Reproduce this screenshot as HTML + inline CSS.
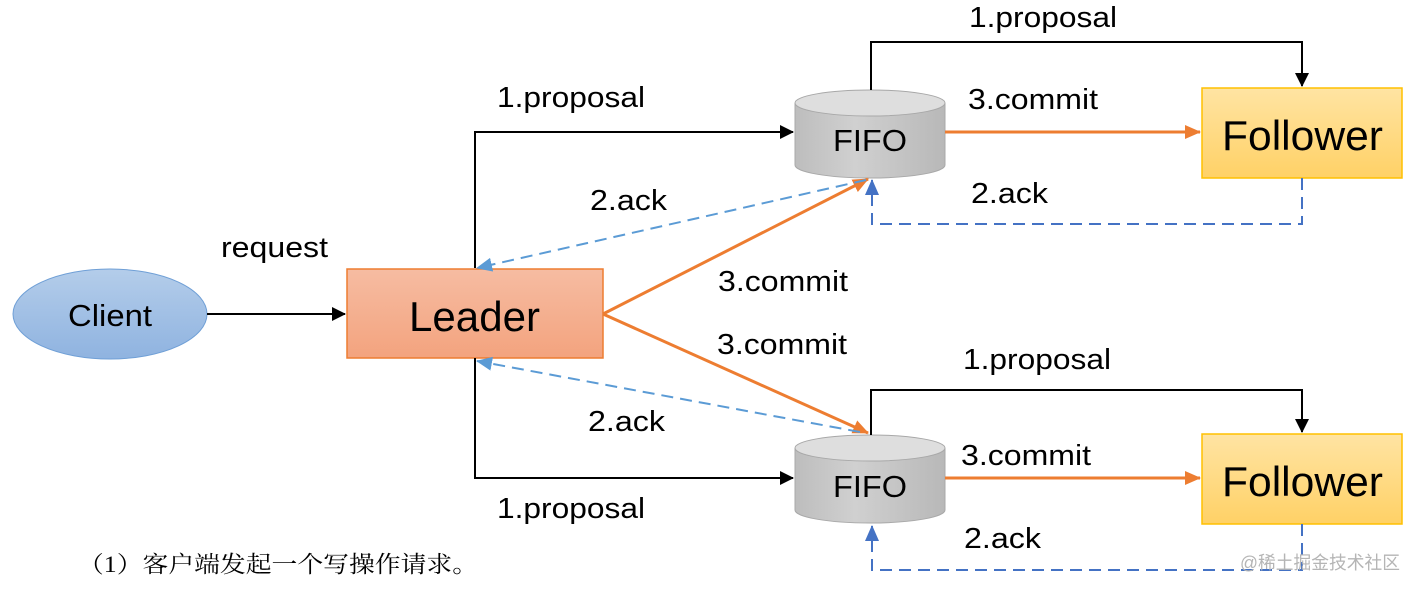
<!DOCTYPE html>
<html><head><meta charset="utf-8"><style>
html,body{margin:0;padding:0;background:#fff;}
svg{display:block;}
text{font-family:"Liberation Sans",Arial,sans-serif;fill:#000;}
</style></head><body>
<svg width="1420" height="590" viewBox="0 0 1420 590" xmlns="http://www.w3.org/2000/svg">
<defs>
<linearGradient id="gc" x1="0" y1="0" x2="0" y2="1"><stop offset="0" stop-color="#b4cdea"/><stop offset="1" stop-color="#8fb3e0"/></linearGradient>
<linearGradient id="gl" x1="0" y1="0" x2="0" y2="1"><stop offset="0" stop-color="#f6bca2"/><stop offset="1" stop-color="#f3a37e"/></linearGradient>
<linearGradient id="gf" x1="0" y1="0" x2="0" y2="1"><stop offset="0" stop-color="#ffe4a3"/><stop offset="1" stop-color="#ffd166"/></linearGradient>
<linearGradient id="gy" x1="0" y1="0" x2="1" y2="0"><stop offset="0" stop-color="#bdbdbd"/><stop offset="0.4" stop-color="#d0d0d0"/><stop offset="1" stop-color="#b8b8b8"/></linearGradient>
<marker id="ak" markerWidth="14" markerHeight="14" refX="13" refY="7" orient="auto" markerUnits="userSpaceOnUse"><path d="M0,0 L14,7 L0,14 z" fill="#000"/></marker>
<marker id="ao" markerWidth="16" markerHeight="14" refX="15" refY="7" orient="auto" markerUnits="userSpaceOnUse"><path d="M0,0 L16,7 L0,14 z" fill="#ed7d31"/></marker>
<marker id="ab" markerWidth="16" markerHeight="14" refX="15" refY="7" orient="auto" markerUnits="userSpaceOnUse"><path d="M0,0 L16,7 L0,14 z" fill="#5b9bd5"/></marker>
<marker id="ad" markerWidth="16" markerHeight="14" refX="15" refY="7" orient="auto" markerUnits="userSpaceOnUse"><path d="M0,0 L16,7 L0,14 z" fill="#4472c4"/></marker>
</defs>

<!-- Client -->
<ellipse cx="110" cy="314" rx="97" ry="45" fill="url(#gc)" stroke="#6f9fd6" stroke-width="1"/>
<text x="68" y="326" font-size="31" textLength="84" lengthAdjust="spacingAndGlyphs">Client</text>
<line x1="207" y1="314" x2="345" y2="314" stroke="#000" stroke-width="2" marker-end="url(#ak)"/>
<text x="221" y="257" font-size="29" textLength="107" lengthAdjust="spacingAndGlyphs">request</text>

<!-- Leader -->
<rect x="347" y="269" width="256" height="89" fill="url(#gl)" stroke="#ed7d31" stroke-width="1.5"/>
<text x="409" y="331" font-size="42" textLength="131" lengthAdjust="spacingAndGlyphs">Leader</text>

<!-- proposals from leader -->
<polyline points="475,268 475,132 793,132" fill="none" stroke="#000" stroke-width="2" marker-end="url(#ak)"/>
<polyline points="475,358 475,478 793,478" fill="none" stroke="#000" stroke-width="2" marker-end="url(#ak)"/>
<text x="497" y="107" font-size="29" textLength="148" lengthAdjust="spacingAndGlyphs">1.proposal</text>
<text x="497" y="518" font-size="29" textLength="148" lengthAdjust="spacingAndGlyphs">1.proposal</text>

<!-- FIFO top -->
<path d="M795,103 L795,165 A75,13 0 0 0 945,165 L945,103" fill="url(#gy)" stroke="#a8a8a8" stroke-width="1"/>
<ellipse cx="870" cy="103" rx="75" ry="13" fill="#dedede" stroke="#a8a8a8" stroke-width="1"/>
<text x="833" y="151" font-size="31" textLength="74" lengthAdjust="spacingAndGlyphs">FIFO</text>
<!-- FIFO bottom -->
<path d="M795,448 L795,510 A75,13 0 0 0 945,510 L945,448" fill="url(#gy)" stroke="#a8a8a8" stroke-width="1"/>
<ellipse cx="870" cy="448" rx="75" ry="13" fill="#dedede" stroke="#a8a8a8" stroke-width="1"/>
<text x="833" y="497" font-size="31" textLength="74" lengthAdjust="spacingAndGlyphs">FIFO</text>

<!-- Followers -->
<rect x="1202" y="88" width="200" height="90" fill="url(#gf)" stroke="#ffc000" stroke-width="1.5"/>
<text x="1222" y="150" font-size="42" textLength="161" lengthAdjust="spacingAndGlyphs">Follower</text>
<rect x="1202" y="434" width="200" height="90" fill="url(#gf)" stroke="#ffc000" stroke-width="1.5"/>
<text x="1222" y="496" font-size="42" textLength="161" lengthAdjust="spacingAndGlyphs">Follower</text>

<!-- FIFO -> follower proposals -->
<polyline points="871,90 871,42 1302,42 1302,86" fill="none" stroke="#000" stroke-width="2" marker-end="url(#ak)"/>
<polyline points="871,435 871,390 1302,390 1302,432" fill="none" stroke="#000" stroke-width="2" marker-end="url(#ak)"/>
<text x="969" y="27" font-size="29" textLength="148" lengthAdjust="spacingAndGlyphs">1.proposal</text>
<text x="963" y="369" font-size="29" textLength="148" lengthAdjust="spacingAndGlyphs">1.proposal</text>

<!-- commits to follower -->
<line x1="945" y1="132" x2="1200" y2="132" stroke="#ed7d31" stroke-width="3" marker-end="url(#ao)"/>
<line x1="945" y1="478" x2="1200" y2="478" stroke="#ed7d31" stroke-width="3" marker-end="url(#ao)"/>
<text x="968" y="109" font-size="29" textLength="130" lengthAdjust="spacingAndGlyphs">3.commit</text>
<text x="961" y="465" font-size="29" textLength="130" lengthAdjust="spacingAndGlyphs">3.commit</text>

<!-- follower acks -->
<polyline points="1302,178 1302,224 872,224 872,180" fill="none" stroke="#4472c4" stroke-width="2" stroke-dasharray="12,7" marker-end="url(#ad)"/>
<polyline points="1302,524 1302,570 872,570 872,526" fill="none" stroke="#4472c4" stroke-width="2" stroke-dasharray="12,7" marker-end="url(#ad)"/>
<text x="971" y="203" font-size="29" textLength="77" lengthAdjust="spacingAndGlyphs">2.ack</text>
<text x="964" y="548" font-size="29" textLength="77" lengthAdjust="spacingAndGlyphs">2.ack</text>

<!-- leader commits -->
<line x1="603" y1="314" x2="868" y2="179" stroke="#ed7d31" stroke-width="3" marker-end="url(#ao)"/>
<line x1="603" y1="314" x2="868" y2="433" stroke="#ed7d31" stroke-width="3" marker-end="url(#ao)"/>
<text x="718" y="291" font-size="29" textLength="130" lengthAdjust="spacingAndGlyphs">3.commit</text>
<text x="717" y="354" font-size="29" textLength="130" lengthAdjust="spacingAndGlyphs">3.commit</text>

<!-- leader acks -->
<line x1="866" y1="180" x2="477" y2="268" stroke="#5b9bd5" stroke-width="2" stroke-dasharray="12,7" marker-end="url(#ab)"/>
<line x1="860" y1="432" x2="477" y2="361" stroke="#5b9bd5" stroke-width="2" stroke-dasharray="12,7" marker-end="url(#ab)"/>
<text x="590" y="210" font-size="29" textLength="77" lengthAdjust="spacingAndGlyphs">2.ack</text>
<text x="588" y="431" font-size="29" textLength="77" lengthAdjust="spacingAndGlyphs">2.ack</text>

<!-- caption -->
<text x="78" y="572" font-size="23" textLength="400" lengthAdjust="spacingAndGlyphs" style="font-family:'Liberation Serif','Noto Serif CJK SC',serif">（1）客户端发起一个写操作请求。</text>
<text x="1240" y="569" font-size="18" textLength="160" lengthAdjust="spacingAndGlyphs" style="font-family:'Liberation Sans','Noto Sans CJK SC',sans-serif;fill:#b5b5b5">@稀土掘金技术社区</text>
</svg>
</body></html>
